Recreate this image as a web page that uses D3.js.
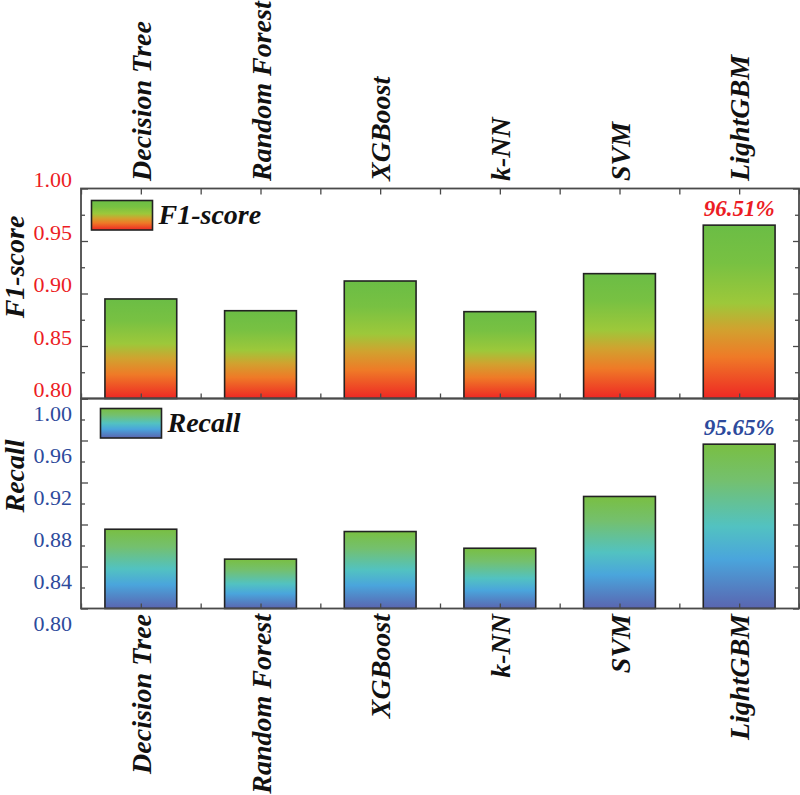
<!DOCTYPE html>
<html>
<head>
<meta charset="utf-8">
<script src="https://cdn.jsdelivr.net/npm/d3@7"></script>
<style>
  body { margin: 0; background: #fff; }
  svg { display: block; }
</style>
</head>
<body>
<svg id="chart" width="800" height="795"></svg>
<script>
// ---- data
var models = ["Decision Tree", "Random Forest", "XGBoost", "k-NN", "SVM", "LightGBM"];
var f1Scores = [0.8948, 0.8836, 0.9119, 0.8827, 0.9189, 0.9651];
var recallScores = [0.8755, 0.8470, 0.8733, 0.8574, 0.9067, 0.9565];
var f1Ticks = [0.80, 0.85, 0.90, 0.95, 1.00];
var recallTicks = [0.80, 0.84, 0.88, 0.92, 0.96, 1.00];

// ---- layout
var left = 81, right = 799, top1 = 188.5, mid = 398.5, bottom2 = 608.5;
var serif = "Liberation Serif, Times New Roman, serif";
var redC = "#ec1c24", blueC = "#2d4a9c", frameC = "#4a4a4a";

var svg = d3.select("#chart");

// gradients
var defs = svg.append("defs");
function addGrad(id, stops) {
  var g = defs.append("linearGradient").attr("id", id)
    .attr("x1", 0).attr("y1", 0).attr("x2", 0).attr("y2", 1);
  stops.forEach(function(s) {
    g.append("stop").attr("offset", s[0]).attr("stop-color", s[1]);
  });
}
addGrad("gF1", [["0%", "#6bbd45"], ["22%", "#78c142"], ["45%", "#9dc83a"], ["60%", "#d1a22f"], ["76%", "#ef7a27"], ["100%", "#ee2724"]]);
addGrad("gRec", [["0%", "#79bf42"], ["22%", "#74c06e"], ["50%", "#52c2c1"], ["70%", "#4aa5dc"], ["100%", "#5a65b0"]]);

var x = d3.scaleBand().domain(models).range([left, right]).paddingInner(0.4).paddingOuter(0.2);
var xPos = d3.scaleLinear().domain([0, models.length]).range([left, right]);
var halfSteps = d3.range(0, models.length * 2 + 1).map(function(i) { return i / 2; });

function boldItalic(sel, size) {
  return sel.attr("font-family", serif).attr("font-weight", "bold").attr("font-style", "italic")
    .attr("font-size", size);
}

function panel(opts) {
  var y = d3.scaleLinear().domain(opts.domain).range([opts.y1, opts.y0]);
  var g = svg.append("g");

  // bars
  g.selectAll(".bar").data(opts.values).enter().append("rect")
    .attr("class", "bar")
    .attr("x", function(d, i) { return x(models[i]); })
    .attr("width", x.bandwidth())
    .attr("y", function(d) { return y(d); })
    .attr("height", function(d) { return y(opts.domain[0]) - y(d); })
    .style("fill", "url(#" + opts.grad + ")")
    .style("stroke", "#222")
    .style("stroke-width", 1.6);

  // left axis, ticks inward with minor ticks
  var all = [];
  for (var i = 0; i < opts.ticks.length; i++) {
    all.push(opts.ticks[i]);
    if (i < opts.ticks.length - 1) all.push((opts.ticks[i] + opts.ticks[i + 1]) / 2);
  }
  var isMajor = function(v) { return opts.ticks.some(function(t) { return Math.abs(t - v) < 1e-9; }); };

  var ax = g.append("g").attr("transform", "translate(" + left + ",0)")
    .call(d3.axisLeft(y).tickValues(all).tickSize(-7).tickPadding(9)
      .tickFormat(function(d) { return isMajor(d) ? d3.format(".2f")(d) : ""; }));
  ax.attr("font-family", serif).attr("font-size", 22);
  ax.select(".domain").remove();
  ax.selectAll(".tick line").attr("stroke", frameC).attr("stroke-width", 1.3)
    .attr("x2", function(d) { return isMajor(d) ? 7 : 4; });
  ax.selectAll(".tick text")
    .attr("fill", opts.color)
    .attr("y", opts.labelShift);

  // right axis
  var ar = g.append("g").attr("transform", "translate(" + right + ",0)")
    .call(d3.axisRight(y).tickValues(all).tickSize(-6).tickFormat(""));
  ar.select(".domain").remove();
  ar.selectAll(".tick line").attr("stroke", frameC).attr("stroke-width", 1.3)
    .attr("x2", function(d) { return isMajor(d) ? -6 : -4; });

  // bottom x ticks pointing up
  var ab = g.append("g").attr("transform", "translate(0," + opts.y1 + ")")
    .call(d3.axisBottom(xPos).tickValues(halfSteps).tickSize(-5).tickFormat(""));
  ab.select(".domain").remove();
  ab.selectAll(".tick line").attr("stroke", frameC).attr("stroke-width", 1.3);

  if (opts.topTicks) {
    var at = g.append("g").attr("transform", "translate(0," + opts.y0 + ")")
      .call(d3.axisTop(xPos).tickValues(halfSteps).tickSize(-6).tickFormat(""));
    at.select(".domain").remove();
    at.selectAll(".tick line").attr("stroke", frameC).attr("stroke-width", 1.3);
  }

  // frame
  g.append("rect")
    .attr("x", left).attr("y", opts.y0)
    .attr("width", right - left).attr("height", opts.y1 - opts.y0)
    .style("fill", "none").style("stroke", frameC).style("stroke-width", 1.8);

  // legend
  g.append("rect")
    .attr("x", opts.legX).attr("y", opts.legY)
    .attr("width", 61).attr("height", 29.5)
    .style("fill", "url(#" + opts.grad + ")")
    .style("stroke", "#222").style("stroke-width", 1.6);
  boldItalic(g.append("text"), 28)
    .attr("x", opts.legX + 67).attr("y", opts.legY + 23)
    .attr("fill", "#111")
    .text(opts.title);

  // value label on the best bar
  var last = models.length - 1;
  boldItalic(g.append("text"), 23)
    .attr("x", x(models[last]) + x.bandwidth() / 2)
    .attr("y", y(opts.values[last]) - 9)
    .attr("text-anchor", "middle")
    .attr("fill", opts.color)
    .text(d3.format(".2f")(opts.values[last] * 100) + "%");

  // y title
  boldItalic(g.append("text"), 28)
    .attr("transform", "translate(24," + opts.titleY + ") rotate(-90)")
    .attr("text-anchor", "middle")
    .attr("fill", "#111")
    .text(opts.title);
}

panel({ values: f1Scores, domain: [0.80, 1.00], ticks: f1Ticks, y0: top1, y1: mid,
  grad: "gF1", color: redC, labelShift: -9, topTicks: true,
  legX: 91.5, legY: 200.5, title: "F1-score", titleY: 267 });

panel({ values: recallScores, domain: [0.80, 1.00], ticks: recallTicks, y0: mid, y1: bottom2,
  grad: "gRec", color: blueC, labelShift: 15, topTicks: false,
  legX: 100.5, legY: 408.5, title: "Recall", titleY: 476 });

// category labels, top and bottom
function catLabels(yAnchor, anchor) {
  boldItalic(svg.append("g").selectAll("text").data(models).enter().append("text"), 28)
    .attr("transform", function(d) {
      return "translate(" + (x(d) + x.bandwidth() / 2) + "," + yAnchor + ") rotate(-90)";
    })
    .attr("dy", "0.36em")
    .attr("text-anchor", anchor)
    .attr("fill", "#111")
    .text(function(d) { return d; });
}
catLabels(181, "start");
catLabels(614, "end");
</script>
</body>
</html>
